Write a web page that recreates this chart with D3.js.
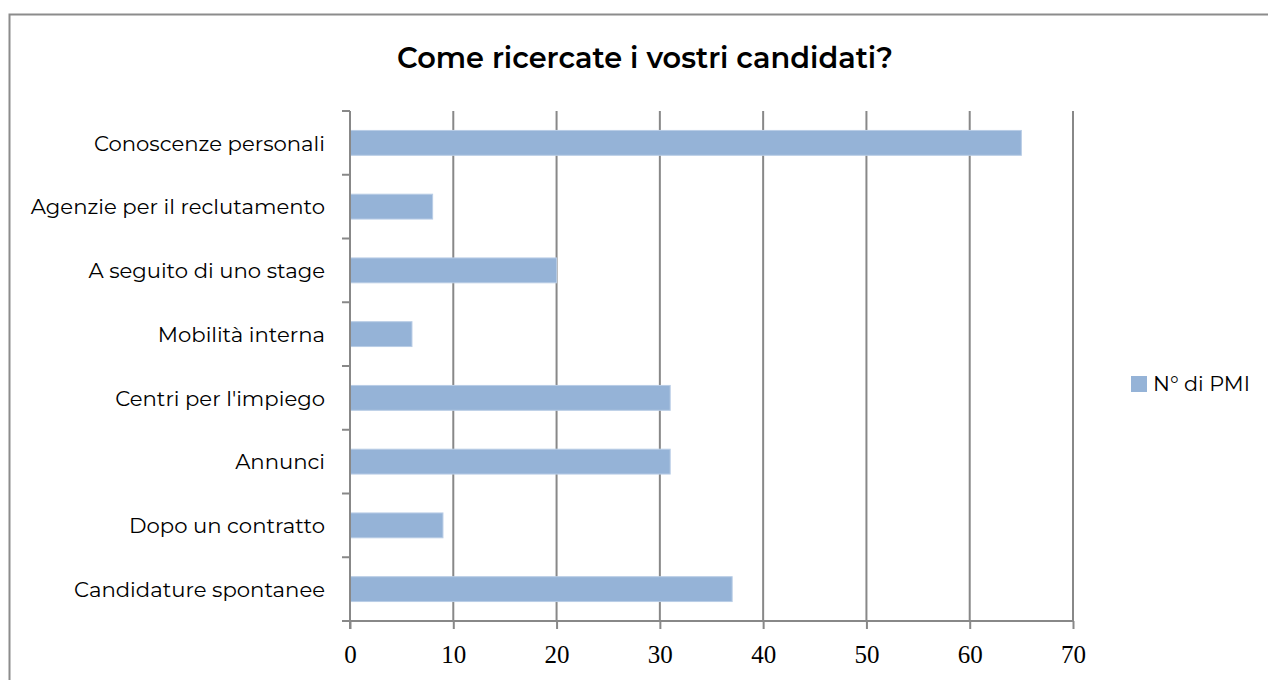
<!DOCTYPE html>
<html><head><meta charset="utf-8">
<script src="https://cdn.jsdelivr.net/npm/d3@7"></script>
<style>body{margin:0;background:#fff}svg{display:block}</style>
</head><body>
<svg id="c" width="1268" height="680"></svg>
<script>
const title = "Come ricercate i vostri candidati?";
const categories = ["Conoscenze personali","Agenzie per il reclutamento","A seguito di uno stage","Mobilità interna","Centri per l'impiego","Annunci","Dopo un contratto","Candidature spontanee"];
const values = [65, 8, 20, 6, 31, 31, 9, 37];
const xTicks = [0,10,20,30,40,50,60,70];
const seriesName = "N° di PMI";

const svg = d3.select("#c");
const sans = "Montserrat, Inter, 'Noto Sans', sans-serif";
const grid = "#888888";

// frame
svg.append("path").attr("d","M9.5,680 V14.5 H1268").attr("fill","none").attr("stroke","#8c8c8c").attr("stroke-width",2);

const x = d3.scaleLinear().domain([0,70]).range([350,1073]);
const y = d3.scaleBand().domain(categories).range([111,621]).paddingInner(0.61).paddingOuter(0.305);

function fitSize(sel, w){ const n = sel.node(); const cur = n.getComputedTextLength(); const fs = parseFloat(sel.attr("font-size")); return fs*w/cur; }

// title
const t = svg.append("text").attr("x",645).attr("y",68).attr("text-anchor","middle")
  .attr("font-family",sans).attr("font-weight",600).attr("font-size",24).attr("fill","#000").text(title);
t.attr("font-size", fitSize(t, 496));

// gridlines
svg.append("g").selectAll("line").data(xTicks.slice(1)).join("line")
  .attr("x1",d=>x(d)).attr("x2",d=>x(d)).attr("y1",111).attr("y2",621)
  .attr("stroke",grid).attr("stroke-width",2);

// bars
svg.append("g").selectAll("rect").data(values).join("rect")
  .attr("x",x(0)).attr("y",(d,i)=>y(categories[i]))
  .attr("width",d=>x(d)-x(0)).attr("height",y.bandwidth())
  .attr("fill","#95b3d7").attr("stroke","#b9cde6").attr("stroke-width",1);

// y axis
const gy = svg.append("g").attr("transform","translate(350,0)");
gy.append("line").attr("x1",0).attr("x2",0).attr("y1",111).attr("y2",629).attr("stroke",grid).attr("stroke-width",2);
const bounds = d3.range(categories.length+1).map(i=>111 + i*(621-111)/categories.length);
gy.selectAll("line.t").data(bounds).join("line").attr("class","t")
  .attr("x1",-8).attr("x2",0).attr("y1",d=>d).attr("y2",d=>d).attr("stroke",grid).attr("stroke-width",2);
const labels = gy.selectAll("text").data(categories).join("text")
  .attr("x",-25).attr("y",d=>y(d)+y.bandwidth()/2+6.5).attr("text-anchor","end")
  .attr("font-family",sans).attr("font-size",18).attr("fill","#000").text(d=>d);
const lfs = fitSize(labels.filter(d=>d==="Candidature spontanee"), 251);
labels.attr("font-size", lfs).attr("y",d=>y(d)+y.bandwidth()/2+lfs*0.36);

// x axis
const xAxis = d3.axisBottom(x).tickValues(xTicks).tickSize(8).tickFormat(d3.format("d"));
const gx = svg.append("g").attr("transform","translate(0,621)").call(xAxis);
gx.select(".domain").attr("stroke",grid).attr("stroke-width",2).attr("d","M350,0H1073");
gx.selectAll(".tick line").attr("stroke",grid).attr("stroke-width",2);
gx.selectAll(".tick text").attr("font-family","'Liberation Serif', 'DejaVu Serif', serif").attr("font-size",25)
  .attr("fill","#000").attr("y",42).attr("dy",0);

// legend
svg.append("rect").attr("x",1131).attr("y",376).attr("width",16).attr("height",16).attr("fill","#95b3d7");
const lg = svg.append("text").attr("x",1153).attr("y",391).attr("font-family",sans).attr("font-size",18).attr("fill","#000").text(seriesName);
lg.attr("font-size", fitSize(lg, 97));
</script>
</body></html>
